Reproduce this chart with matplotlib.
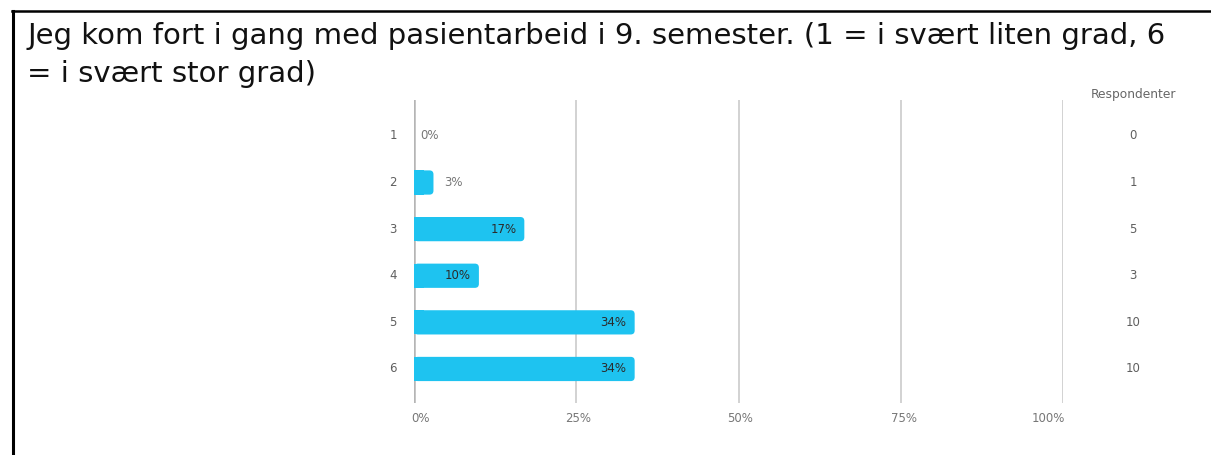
import matplotlib.pyplot as plt
from matplotlib.patches import FancyBboxPatch, Rectangle
from matplotlib.lines import Line2D

# Survey answers on a 1-6 scale
categories = ['1', '2', '3', '4', '5', '6']
percent = [0, 3, 17, 10, 34, 34]
respondents = [0, 1, 5, 3, 10, 10]
xticks = [0, 25, 50, 75, 100]
xtick_labels = ['0%', '25%', '50%', '75%', '100%']
title_lines = ['Jeg kom fort i gang med pasientarbeid i 9. semester. (1 = i svært liten grad, 6',
               '= i svært stor grad)']

W, H = 1211, 455
fig = plt.figure(figsize=(W / 100, H / 100), dpi=100)
fig.patch.set_facecolor('white')

# frame lines along top and left edge
fig.add_artist(Line2D([12 / W, 1], [1 - 11 / H, 1 - 11 / H], color='black', lw=1.8))
fig.add_artist(Line2D([13 / W, 13 / W], [0, 1 - 11 / H], color='black', lw=2.2))

for k, line in enumerate(title_lines):
    fig.text(27 / W, 1 - (44 + 38 * k) / H, line, fontsize=21, family='DejaVu Sans',
             color='#111111', va='baseline', ha='left')

ax = fig.add_axes([414 / W, (H - 403) / H, 649 / W, 303 / H])
ax.set_xlim(0, 100)
ax.set_ylim(6.73, 0.23)
for s in ax.spines.values():
    s.set_visible(False)
ax.set_yticks([])
ax.set_xticks([])

for x in xticks:
    if x == 0:
        ax.axvline(x, color='#b5b5b5', lw=1.8, zorder=0)
    else:
        ax.axvline(x, color='#cfcfcf', lw=1.3, zorder=0)

small = dict(family='DejaVu Sans', fontsize=8.5)
bar_color = '#1ec3f0'
bar_h = 0.52
px_x = 100 / 649
px_y = 1 / 46.6
for i, (p, n) in enumerate(zip(percent, respondents)):
    y = i + 1
    if p > 0:
        r = 4 * px_x
        box = FancyBboxPatch((0, y - bar_h / 2), p, bar_h,
                             boxstyle=f'round,pad=0,rounding_size={r}',
                             mutation_aspect=px_y / px_x,
                             fc=bar_color, ec='none', zorder=2)
        ax.add_patch(box)
        # square off the end that sits on the zero line
        ax.add_patch(Rectangle((0, y - bar_h / 2), min(p, 1.5), bar_h,
                               fc=bar_color, ec='none', lw=0, zorder=2))
    label = f'{p}%'
    if p >= 10:
        ax.text(p - 8 * px_x, y, label, ha='right', va='center', color='#2b2b2b',
                zorder=3, **small)
    else:
        ax.text(p + (6 if p == 0 else 11) * px_x, y, label, ha='left', va='center',
                color='#777777', zorder=3, **small)
    ax.text(-21 * px_x, y, categories[i], ha='center', va='center', color='#5f5f5f', **small)
    ax.text(100 + 70 * px_x, y, str(n), ha='center', va='center', color='#5f5f5f', **small)

# tick labels sit slightly off the gridlines at both ends
tick_offsets = [7, 2, 2, 3, -15]
for x, lab, off in zip(xticks, xtick_labels, tick_offsets):
    ax.text(x + off * px_x, 6.73 + 15 * px_y, lab, ha='center', va='center',
            color='#777777', **small)

ax.text(100 + 70 * px_x, 0.23 - 5 * px_y, 'Respondenter', ha='center', va='center',
        family='DejaVu Sans', fontsize=8.8, color='#666666')

fig.savefig('out.png', dpi=100)
